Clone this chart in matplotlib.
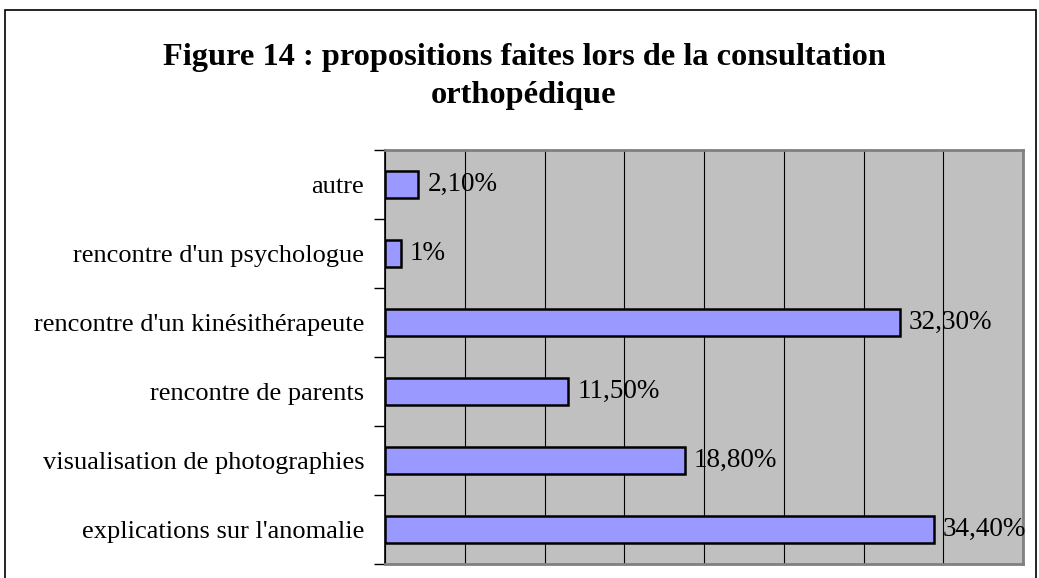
import matplotlib
matplotlib.use("Agg")
import matplotlib.pyplot as plt
from matplotlib.patches import Rectangle

categories = ["explications sur l'anomalie", "visualisation de photographies",
              "rencontre de parents", "rencontre d'un kinésithérapeute",
              "rencontre d'un psychologue", "autre"]
values = [34.4, 18.8, 11.5, 32.3, 1.0, 2.1]
value_labels = ["34,40%", "18,80%", "11,50%", "32,30%", "1%", "2,10%"]

plt.rcParams['font.family'] = ['Liberation Serif', 'DejaVu Serif']

fig = plt.figure(figsize=(10.39, 5.78), dpi=100)
fig.patches.append(Rectangle((5/1039, -0.05), (1036 - 5)/1039, 1.05 - 10/578,
                             transform=fig.transFigure, fill=False, edgecolor='black',
                             linewidth=1.2))
ax = fig.add_axes([385/1039, 1 - 564/578, (1023 - 385)/1039, (564 - 150)/578])
ax.set_facecolor('#C0C0C0')
ypos = list(range(len(categories)))
ax.barh(ypos, values, height=0.4, color='#9999FF', edgecolor='black', linewidth=1.8, zorder=3)
for y, v, lab in zip(ypos, values, value_labels):
    ax.text(v + 0.55, y, lab, va='center', ha='left', fontsize=19.5, zorder=4)
ax.set_xlim(0, 40)
ax.set_ylim(-0.5, len(categories) - 0.5)
ax.set_xticks(range(0, 41, 5))
ax.tick_params(axis='x', length=0, labelbottom=False)
ax.grid(axis='x', color='black', linewidth=0.8, zorder=1)
ax.set_yticks([y - 0.5 for y in range(len(categories) + 1)], minor=False)
ax.set_yticklabels([])
ax.set_yticks(ypos, minor=True)
ax.set_yticklabels(categories, minor=True, fontsize=19)
ax.tick_params(axis='y', which='minor', length=0, pad=15)
ax.tick_params(axis='y', which='major', length=8, width=1, direction='out')
for s in ['top', 'right', 'bottom']:
    ax.spines[s].set_color('#808080')
    ax.spines[s].set_linewidth(2)
ax.spines['left'].set_color('black')
ax.spines['left'].set_linewidth(1.2)

fig.text(524/1039, 1 - 57/578, "Figure 14 : propositions faites lors de la consultation",
         ha='center', va='center', fontsize=23.3, fontweight='bold')
fig.text(524/1039, 1 - 96/578, "orthopédique",
         ha='center', va='center', fontsize=23.3, fontweight='bold')

fig.savefig("out.png", dpi=100)
